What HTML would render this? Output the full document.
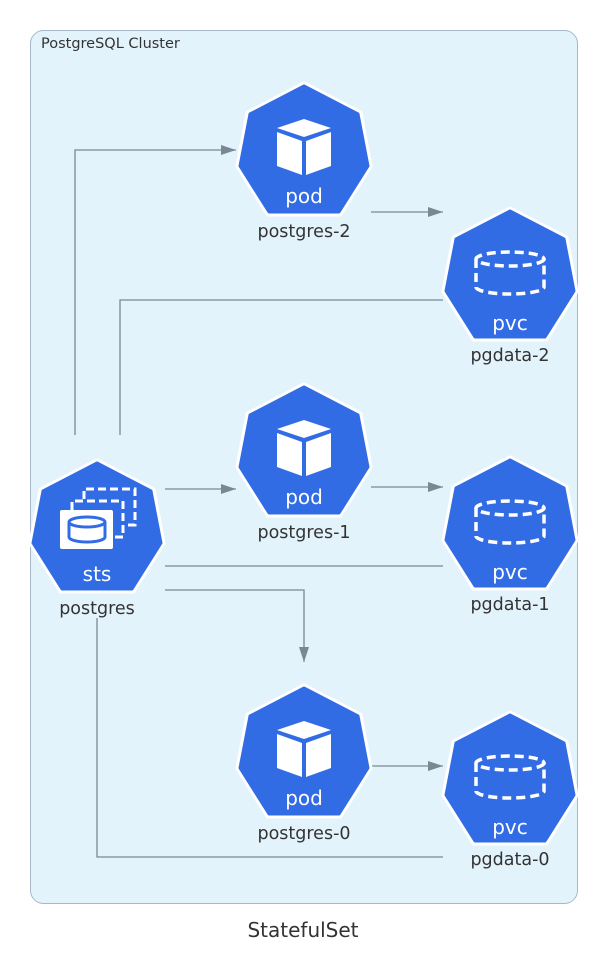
<!DOCTYPE html>
<html><head><meta charset="utf-8"><style>
html,body{margin:0;padding:0;background:#fff;}
svg{display:block;font-family:"DejaVu Sans","Liberation Sans",sans-serif;}
</style></head><body>
<svg width="608" height="968" viewBox="0 0 608 968" xmlns="http://www.w3.org/2000/svg">
<defs>
<marker id="ar" markerWidth="16" markerHeight="10" refX="15" refY="5" orient="auto" markerUnits="userSpaceOnUse"><path d="M0,0 L15,5 L0,10 z" fill="#7b8894"/></marker>
<g id="hep">
<polygon points="0,0 -56,29 -66,82 -36,130 36,130 66,82 56,29" fill="#fff" stroke="#fff" stroke-width="5" stroke-linejoin="round"/>
<polygon points="0,2 -54,30 -64,82 -35,128 35,128 64,82 54,30" fill="#326ce5" stroke="#326ce5" stroke-width="3" stroke-linejoin="round"/>
</g>
<g id="pod">
<use href="#hep"/>
<path d="M0,35 L27,44 L0,53 L-27,44 Z" fill="#fff"/>
<path d="M-27,48 L-2,57 L-2,91 L-27,82 Z" fill="#fff"/>
<path d="M27,48 L2,57 L2,91 L27,82 Z" fill="#fff"/>
<text x="0" y="119" font-size="20" fill="#fff" text-anchor="middle">pod</text>
</g>
<g id="pvc">
<use href="#hep"/>
<g fill="none" stroke="#fff" stroke-width="3.5" stroke-dasharray="9,5">
<ellipse cx="0" cy="50" rx="34" ry="7"/>
<path d="M-34,50 L-34,78 A34,7 0 0 0 34,78 L34,50"/>
</g>
<text x="0" y="121" font-size="20" fill="#fff" text-anchor="middle">pvc</text>
</g>
</defs>
<rect x="30.5" y="30.5" width="547" height="873" rx="13" fill="#e3f3fc" stroke="#a9b8c8" stroke-width="1"/>
<text x="41" y="48" font-size="14.5" fill="#333">PostgreSQL Cluster</text>
<text x="303" y="937" font-size="20" fill="#333" text-anchor="middle">StatefulSet</text>

<g fill="none" stroke="#7b8894" stroke-width="1.3">
<path d="M75,435 L75,150 L236,150" marker-end="url(#ar)"/>
<path d="M120,435 L120,300 L443,300"/>
<path d="M165,489 L236,489" marker-end="url(#ar)"/>
<path d="M165,566 L443,566"/>
<path d="M165,590 L304,590 L304,662" marker-end="url(#ar)"/>
<path d="M97,618 L97,857 L443,857"/>
<path d="M371,212 L443,212" marker-end="url(#ar)"/>
<path d="M371,487 L443,487" marker-end="url(#ar)"/>
<path d="M371,766 L443,766" marker-end="url(#ar)"/>
</g>

<use href="#pod" x="304" y="84"/>
<use href="#pod" x="304" y="385"/>
<use href="#pod" x="304" y="686"/>
<use href="#pvc" x="510" y="209"/>
<use href="#pvc" x="510" y="458"/>
<use href="#pvc" x="510" y="713"/>

<g transform="translate(97,461)">
<use href="#hep"/>
<g fill="none" stroke="#fff" stroke-width="3" stroke-dasharray="8,4">
<path d="M-13,38 L-13,28 L38,28 L38,64 L28,64"/>
<path d="M-25,49 L-25,40 L26,40 L26,76 L16,76"/>
</g>
<rect x="-37" y="49" width="53" height="39" rx="2" fill="#fff"/>
<g fill="none" stroke="#326ce5" stroke-width="3">
<ellipse cx="-10" cy="61" rx="18" ry="5"/>
<path d="M-28,61 L-28,76 A18,5 0 0 0 8,76 L8,61"/>
</g>
<text x="0" y="120" font-size="20" fill="#fff" text-anchor="middle">sts</text>
</g>

<g font-size="17.5" fill="#333" text-anchor="middle">
<text x="304" y="237">postgres-2</text>
<text x="304" y="538">postgres-1</text>
<text x="304" y="839">postgres-0</text>
<text x="510" y="361">pgdata-2</text>
<text x="510" y="610">pgdata-1</text>
<text x="510" y="865">pgdata-0</text>
<text x="97" y="614">postgres</text>
</g>
</svg>
</body></html>
